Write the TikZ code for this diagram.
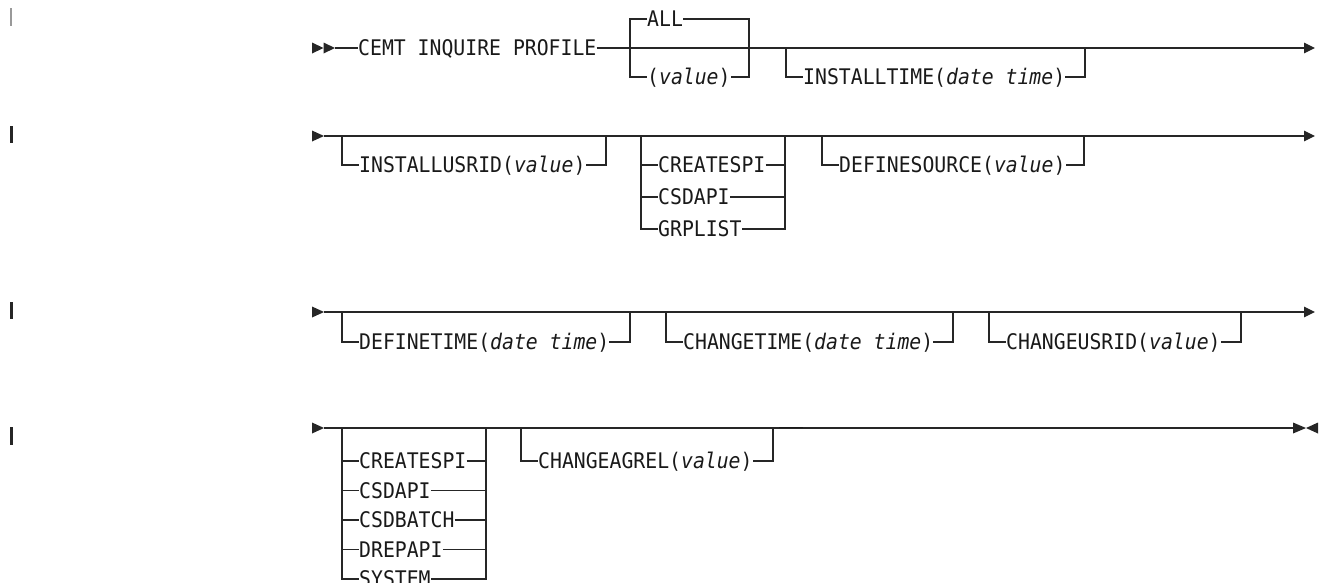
\documentclass[tikz,border=0pt]{standalone}
\usepackage{fontspec}
\setmonofont[FakeStretch=0.92]{DejaVu Sans Mono}
\usetikzlibrary{arrows.meta}
\newcommand\lblfont{\ttfamily\fontsize{21.5}{26}\selectfont}
\tikzset{
  ln/.style={line width=1.2pt, draw=black!85},
  endtip/.style={-{Triangle[length=11pt,width=10.5pt]}},
  lbl/.style={font=\lblfont, text=black!90, inner sep=0pt, text height=15.6pt, text depth=0pt, anchor=west},
  tri/.style={fill=black!85},
}
\begin{document}
\begin{tikzpicture}[x=1pt,y=-1pt]
\path[use as bounding box] (0,0) rectangle (1321,582);
% change bars
\fill[black!40] (10,8) rectangle (12,26);
\fill[black!85] (9.5,126) rectangle (12.5,143);
\fill[black!85] (9.5,302) rectangle (12.5,319);
\fill[black!85] (9.5,427) rectangle (12.5,445);

% ---------- Row 1 ----------
\fill[tri] (312,42.5) -- (323.5,48) -- (312,53.5) -- cycle;
\fill[tri] (323.5,42.5) -- (335,48) -- (323.5,53.5) -- cycle;
\coordinate (s1) at (335,48);
\coordinate (e1) at (1315,48);
\node[lbl] (cemt) at (358,48) {CEMT INQUIRE PROFILE};
\draw[ln] (s1) -- (cemt.west);
\draw[ln,endtip] (cemt.east) -- (e1);
% ALL / (value)
\coordinate (aTL) at (630,19);
\coordinate (aTR) at (749,19);
\node[lbl] (all) at (647,19) {ALL};
\node[lbl] (val1) at (647,77) {(\textit{value})};
\draw[ln] (all.west) -- (aTL) |- (val1.west);
\draw[ln] (all.east) -- (aTR) |- (val1.east);
% INSTALLTIME
\coordinate (itL) at (786,48);
\coordinate (itR) at (1085,48);
\node[lbl] (it) at (803,77) {INSTALLTIME(\textit{date time})};
\draw[ln] (itL) |- (it.west);
\draw[ln] (itR) |- (it.east);

% ---------- Row 2 ----------
\fill[tri] (312,130.5) -- (324,136) -- (312,141.5) -- cycle;
\coordinate (s2) at (324,136);
\coordinate (e2) at (1315,136);
\draw[ln,endtip] (s2) -- (e2);
% INSTALLUSRID
\coordinate (iuL) at (342,136);
\coordinate (iuR) at (606,136);
\node[lbl] (iu) at (359,165) {INSTALLUSRID(\textit{value})};
\draw[ln] (iuL) |- (iu.west);
\draw[ln] (iuR) |- (iu.east);
% CREATESPI group
\coordinate (gaL) at (641,136);
\coordinate (gaR) at (785,136);
\node[lbl] (ga1) at (658,165) {CREATESPI};
\node[lbl] (ga2) at (658,197) {CSDAPI};
\node[lbl] (ga3) at (658,229) {GRPLIST};
\draw[ln] (gaL) |- (ga3.west);
\draw[ln] (gaR) |- (ga3.east);
\draw[ln] (gaL |- ga1.west) -- (ga1.west);
\draw[ln] (gaL |- ga2.west) -- (ga2.west);
\draw[ln] (ga1.east) -- (gaR |- ga1.east);
\draw[ln] (ga2.east) -- (gaR |- ga2.east);
% DEFINESOURCE
\coordinate (dsL) at (822,136);
\coordinate (dsR) at (1084,136);
\node[lbl] (ds) at (839,165) {DEFINESOURCE(\textit{value})};
\draw[ln] (dsL) |- (ds.west);
\draw[ln] (dsR) |- (ds.east);

% ---------- Row 3 ----------
\fill[tri] (312,306.5) -- (324,312) -- (312,317.5) -- cycle;
\coordinate (s3) at (324,312);
\coordinate (e3) at (1315,312);
\draw[ln,endtip] (s3) -- (e3);
\coordinate (dtL) at (342,312);
\coordinate (dtR) at (630,312);
\node[lbl] (dt) at (359,342) {DEFINETIME(\textit{date time})};
\draw[ln] (dtL) |- (dt.west);
\draw[ln] (dtR) |- (dt.east);
\coordinate (ctL) at (666,312);
\coordinate (ctR) at (953,312);
\node[lbl] (ct) at (683,342) {CHANGETIME(\textit{date time})};
\draw[ln] (ctL) |- (ct.west);
\draw[ln] (ctR) |- (ct.east);
\coordinate (cuL) at (989,312);
\coordinate (cuR) at (1241,312);
\node[lbl] (cu) at (1006,342) {CHANGEUSRID(\textit{value})};
\draw[ln] (cuL) |- (cu.west);
\draw[ln] (cuR) |- (cu.east);

% ---------- Row 4 ----------
\fill[tri] (312,422.5) -- (324,428) -- (312,433.5) -- cycle;
\coordinate (s4) at (324,428);
\coordinate (e4) at (1293,428);
\draw[ln] (s4) -- (e4);
\fill[tri] (1293,422.5) -- (1306,428) -- (1293,433.5) -- cycle;
\fill[tri] (1318,422.5) -- (1306,428) -- (1318,433.5) -- cycle;
% group
\coordinate (gbL) at (342,428);
\coordinate (gbR) at (486,428);
\node[lbl] (gb1) at (359,461) {CREATESPI};
\node[lbl] (gb2) at (359,490.5) {CSDAPI};
\node[lbl] (gb3) at (359,520) {CSDBATCH};
\node[lbl] (gb4) at (359,549.5) {DREPAPI};
\node[lbl] (gb5) at (359,579) {SYSTEM};
\draw[ln] (gbL) |- (gb5.west);
\draw[ln] (gbR) |- (gb5.east);
\foreach \n in {gb1,gb2,gb3,gb4}{
  \draw[ln] (gbL |- \n.west) -- (\n.west);
  \draw[ln] (\n.east) -- (gbR |- \n.east);
}
% CHANGEAGREL
\coordinate (caL) at (521,428);
\coordinate (caR) at (773,428);
\node[lbl] (ca) at (538,461) {CHANGEAGREL(\textit{value})};
\draw[ln] (caL) |- (ca.west);
\draw[ln] (caR) |- (ca.east);
\coordinate (arA) at (779,427.4);
\coordinate (arB) at (803,427.4);
\draw[line width=1.8pt, draw=black!90] (arA) -- (arB);
\end{tikzpicture}
\end{document}
